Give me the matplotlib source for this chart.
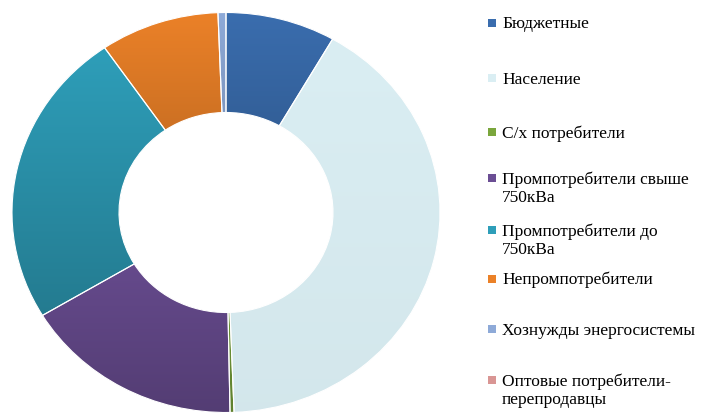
import numpy as np
import matplotlib
matplotlib.use("Agg")
import matplotlib.pyplot as plt
from matplotlib.colors import to_rgb
from matplotlib.patches import Rectangle, Wedge

categories = ["Бюджетные", "Население", "С/х потребители",
              "Промпотребители свыше\n750кВа", "Промпотребители до\n750кВа",
              "Непромпотребители", "Хознужды энергосистемы",
              "Оптовые потребители-\nперепродавцы"]
shares = [8.3, 41.1, 0.3, 16.7, 24.0, 9.0, 0.6, 0.0]
colors = ["#3A6DAE", "#DAEEF3", "#7AA63C", "#6B4E94", "#2E9EB9",
          "#EB8128", "#8EAAD8", "#D99694"]

W, H = 726, 415
fig = plt.figure(figsize=(W / 100, H / 100), dpi=100)
fig.patch.set_facecolor("white")

def fx(px):
    return px / W

def fy(py):
    return 1 - py / H

# donut axes (slightly elliptical as in the reference)
cx, cy, rx, ry = 226, 212.5, 214, 200
ax = fig.add_axes([fx(cx - rx), fy(cy + ry), 2 * rx / W, 2 * ry / H])
wedges, _ = ax.pie(shares, colors=colors, startangle=90, counterclock=False,
                   radius=1.0, wedgeprops=dict(width=0.5, edgecolor="white",
                                               linewidth=0.8))
ax.set_aspect("auto")

# vertical gradient inside each wedge (lighter top, darker bottom)
for w, c in zip(wedges, colors):
    if w.theta2 - w.theta1 <= 0:
        continue
    base = np.array(to_rgb(c))
    dark = base * (0.97 if c == "#DAEEF3" else 0.78)
    verts = w.get_path().vertices
    x0, x1 = verts[:, 0].min(), verts[:, 0].max()
    y0, y1 = verts[:, 1].min(), verts[:, 1].max()
    t = np.linspace(0, 1, 64)[:, None]
    grad = (base[None, :] * (1 - t) + dark[None, :] * t)[:, None, :]
    im = ax.imshow(grad, extent=(x0, x1, y0, y1), origin="upper",
                   aspect="auto", zorder=w.get_zorder() + 0.1,
                   interpolation="bilinear")
    im.set_clip_path(w)
    ax.add_patch(Wedge(w.center, w.r, w.theta1, w.theta2, width=w.width,
                       facecolor="none", edgecolor="white", linewidth=0.8,
                       zorder=5))
ax.set_xlim(-1, 1)
ax.set_ylim(-1, 1)
ax.axis("off")

# manual legend
marker_y = [23, 78, 132, 178, 230, 279, 329, 380]
for lab, c, my in zip(categories, colors, marker_y):
    fig.patches.append(Rectangle((fx(488), fy(my + 4)), 8 / W, 8 / H,
                                 transform=fig.transFigure, facecolor=c,
                                 edgecolor="none"))
    for i, line in enumerate(lab.split("\n")):
        fig.text(fx(502), fy(my + 5.5 + 18 * i), line, ha="left",
                 va="baseline", fontsize=12.5, family="Liberation Serif",
                 color="black")

fig.savefig("out.png", dpi=100)
